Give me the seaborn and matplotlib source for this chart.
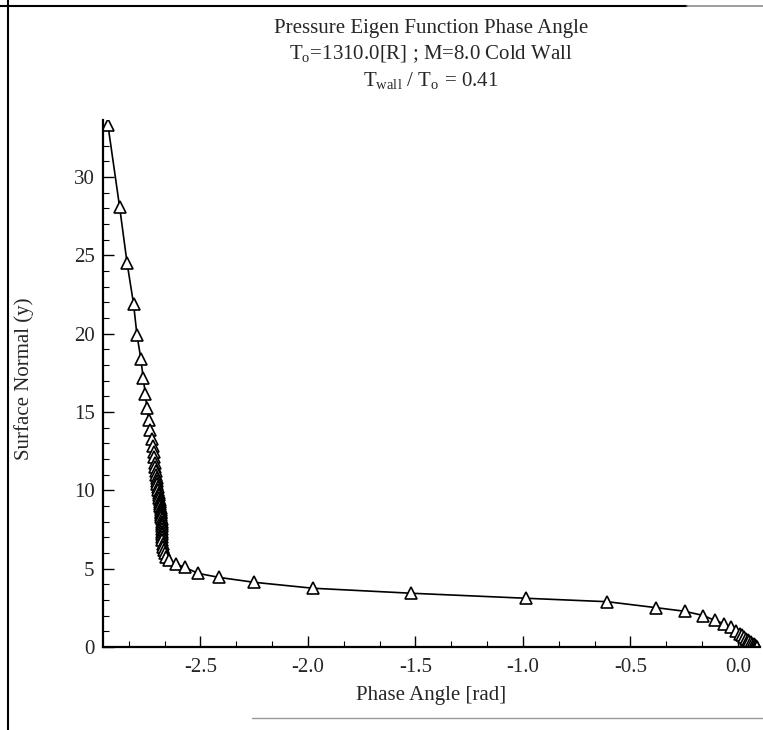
import matplotlib
matplotlib.use("Agg")
import matplotlib.pyplot as plt
from matplotlib.ticker import MultipleLocator, FormatStrFormatter
from matplotlib.lines import Line2D
import seaborn as sns
import pandas as pd

# Phase angle [rad] and surface normal y, wall-top order
phase = [
    -2.930, -2.876, -2.841, -2.811, -2.795, -2.777, -2.766, -2.756, -2.749, -2.741,
    -2.733, -2.727, -2.722, -2.718, -2.715, -2.712,
    -2.710, -2.708, -2.706, -2.704, -2.702, -2.700, -2.698, -2.696, -2.694, -2.692,
    -2.691, -2.689, -2.688, -2.687, -2.686, -2.685, -2.684, -2.683, -2.682, -2.681,
    -2.681, -2.680, -2.680, -2.679, -2.679, -2.679, -2.678, -2.678, -2.678, -2.677,
    -2.676, -2.674, -2.671, -2.666,
    -2.661, -2.645, -2.614, -2.572, -2.511, -2.413, -2.251, -1.977, -1.519, -0.986,
    -0.608, -0.381, -0.248, -0.162, -0.108, -0.065, -0.032, -0.009, 0.009,
    0.018, 0.027, 0.036, 0.045, 0.053, 0.060, 0.067, 0.073, 0.078, 0.083, 0.087, 0.089,
]
y_normal = [
    33.30, 28.10, 24.50, 21.90, 19.90, 18.40, 17.15, 16.15, 15.25, 14.50,
    13.85, 13.30, 12.85, 12.45, 12.10, 11.77,
    11.50, 11.25, 11.00, 10.78, 10.57, 10.37, 10.18, 10.00, 9.83, 9.67,
    9.52, 9.38, 9.25, 9.12, 9.00, 8.88, 8.76, 8.64, 8.52, 8.40,
    8.27, 8.14, 8.00, 7.85, 7.70, 7.54, 7.37, 7.19, 7.00, 6.80,
    6.60, 6.40, 6.20, 6.00,
    5.76, 5.55, 5.30, 5.08, 4.70, 4.44, 4.13, 3.75, 3.43, 3.11,
    2.89, 2.51, 2.28, 2.01, 1.70, 1.49, 1.25, 0.99, 0.86,
    0.74, 0.63, 0.53, 0.44, 0.36, 0.29, 0.22, 0.16, 0.11, 0.06, 0.02, 0.00,
]
df = pd.DataFrame({"phase": phase, "y": y_normal})

title_lines = [
    "Pressure Eigen Function Phase Angle",
    r"T$_\mathrm{o}$=1310.0[R] ; M=8.0 Cold Wall",
    r"T$_\mathrm{wall}$ / T$_\mathrm{o}$ = 0.41",
]

sns.set_style("ticks")
plt.rcParams["font.family"] = ["Liberation Serif", "DejaVu Serif"]
plt.rcParams["mathtext.fontset"] = "custom"
plt.rcParams["mathtext.rm"] = "Liberation Serif"
plt.rcParams["axes.unicode_minus"] = False

fig = plt.figure(figsize=(7.63, 7.30), dpi=100)
ax = fig.add_axes([0.135, 0.1137, 0.861, 0.7213])

sns.lineplot(data=df, x="phase", y="y", sort=False, estimator=None, ax=ax,
             color="black", lw=1.2, marker="^", markersize=8,
             markerfacecolor="white", markeredgecolor="black", markeredgewidth=1.2)

ax.set_xlim(-2.953, 0.102)
ax.set_ylim(0, 33.6)
ax.xaxis.set_major_locator(MultipleLocator(0.5))
ax.xaxis.set_minor_locator(MultipleLocator(1 / 6))
ax.xaxis.set_major_formatter(FormatStrFormatter("%.1f"))
ax.yaxis.set_major_locator(MultipleLocator(5))
ax.yaxis.set_minor_locator(MultipleLocator(1))

sns.despine(ax=ax)
for s in ["left", "bottom"]:
    ax.spines[s].set_linewidth(1.6)
    ax.spines[s].set_color("black")
ax.tick_params(which="major", direction="in", length=8, width=1.0, labelsize=15, color="black")
ax.tick_params(which="minor", direction="in", length=4, width=0.8, color="black")
ax.tick_params(axis="x", pad=8)
ax.tick_params(axis="y", pad=6)

ax.set_xlabel("Phase Angle [rad]", fontsize=15)
ax.set_ylabel("Surface Normal (y)", fontsize=15)
ax.xaxis.set_label_coords(0.5, -0.075)
ax.yaxis.set_label_coords(-0.105, 0.51)

for i, line in enumerate(title_lines):
    fig.text(0.565, 1 - (28 + 26.5 * i) / 730, line, ha="center", va="center", fontsize=15)

# scanned page frame
fig.add_artist(Line2D([0, 0.9], [0.992, 0.992], color="black", lw=1.5))
fig.add_artist(Line2D([0.9, 1.0], [0.992, 0.992], color="0.55", lw=1.2))
fig.add_artist(Line2D([0.0105, 0.0105], [0, 1], color="black", lw=1.5))
fig.add_artist(Line2D([0.33, 1.0], [0.016, 0.016], color="0.6", lw=1.0))

fig.savefig("out.png", dpi=100)
